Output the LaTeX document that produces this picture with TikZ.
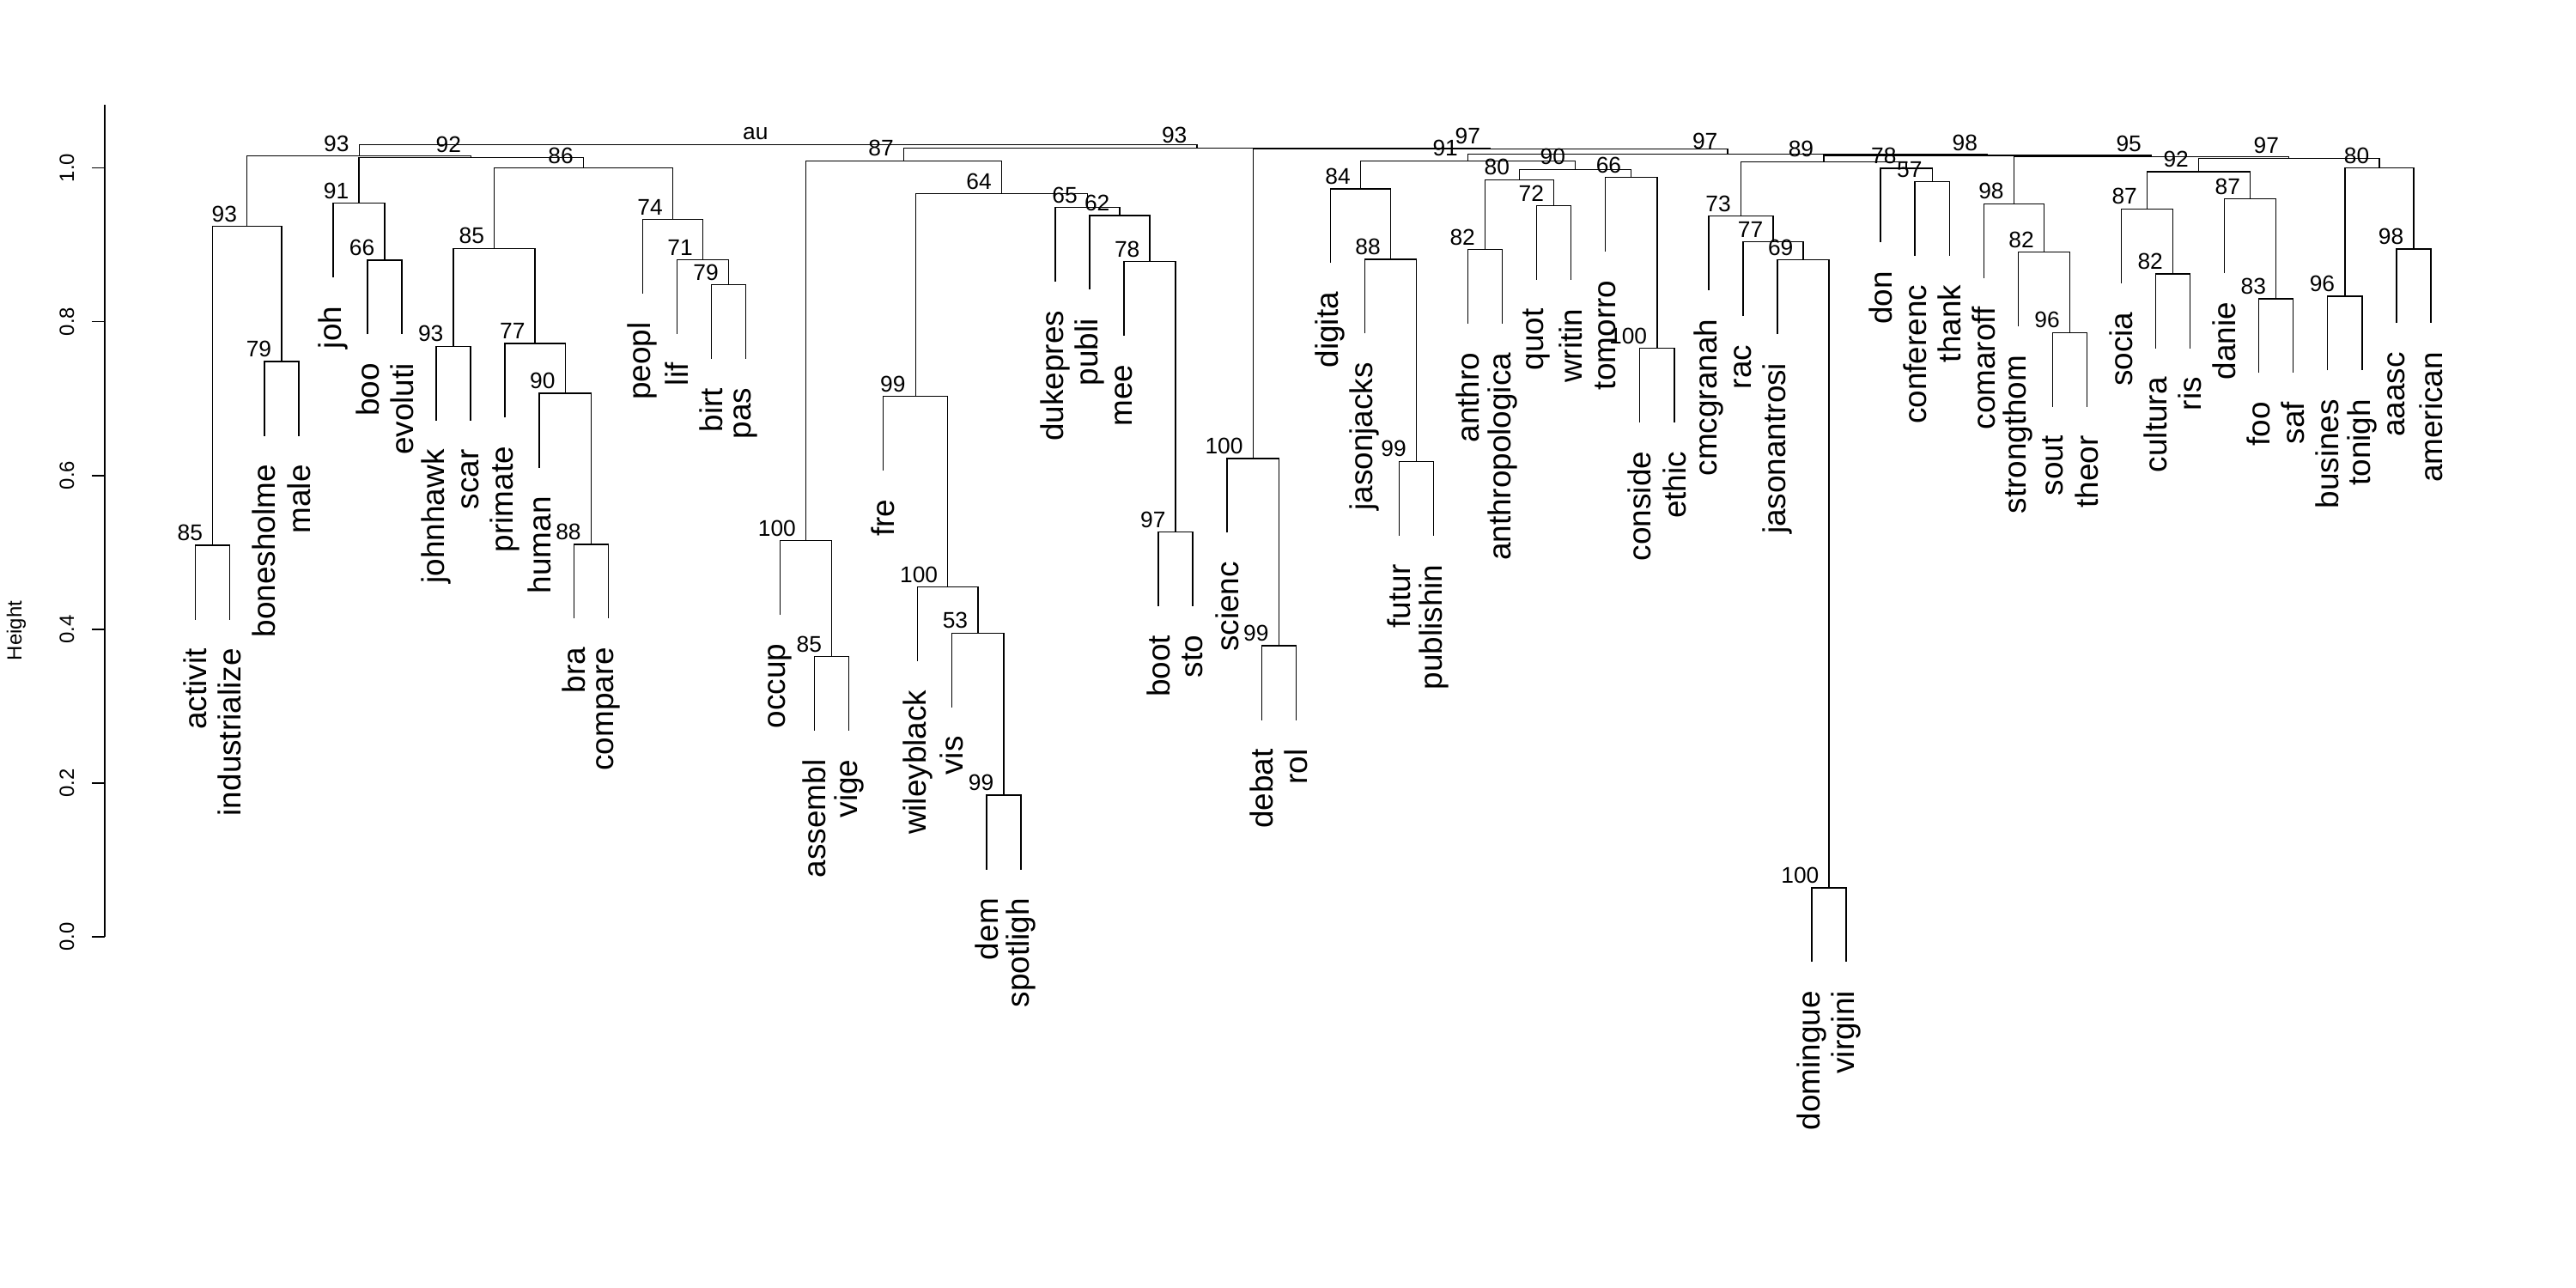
\documentclass[tikz,border=0pt]{standalone}
\usepackage{fontspec}
\setmainfont{Liberation Sans}
\usetikzlibrary{calc}
\tikzset{
  link/.style={line width=0.4pt, black},
  axis line/.style={line width=0.5pt, black},
  au label/.style={
    anchor=south east, inner sep=0pt,
    font=\fontsize{7.5pt}{9pt}\selectfont,
  },
  leaf label/.style={
    anchor=east, rotate=90, inner sep=0pt,
    font=\fontsize{10.5pt}{12pt}\selectfont,
  },
  tick label/.style={
    rotate=90, inner sep=0pt,
    font=\fontsize{6.8pt}{8pt}\selectfont,
  },
}
% leaves hang this far below their merge
\newcommand{\hang}{0.0966}
% merge: name, left child, right child, height, au value
\newcommand{\merge}[5]{%
  \coordinate (#1-mid) at ($(#2)!.5!(#3)$);
  \coordinate (#1) at (#1-mid |- 0,#4);
  \draw[link] (#2) |- (#1) -| (#3);
  \node[au label] (#1-au) at ([xshift=-1.1mm, yshift=0.45mm]#1) {#5};
}

\begin{document}
\begin{tikzpicture}[x=0.4005cm, y=8.955cm]
\useasboundingbox (-4.6854,-0.45673) rectangle (70.222,1.21831);

%% axis ==============================================================
\coordinate (ax0) at (-1.639, 0);
\coordinate (ax1) at (-1.639, 1.0824);
\draw[axis line] (ax0) -- (ax1);
\foreach \t in {0.0,0.2,0.4,0.6,0.8,1.0} {
  \draw[axis line] (-1.639,\t) -- ++(-0.3745,0);
  \node[tick label] at (-2.738,\t) {\t};
}
\node[tick label] (ylab) at (-4.211, 0.3981) {Height};

%% leaves: index / label / height of the merge above ==================
\foreach \i/\lab/\ph in {
  1/activit/0.509, 2/industrialize/0.509, 3/bonesholme/0.748, 4/male/0.748,
  5/joh/0.954, 6/boo/0.880, 7/evoluti/0.880, 8/johnhawk/0.768, 9/scar/0.768,
  10/primate/0.7716, 11/human/0.7066, 12/bra/0.5105, 13/compare/0.5105,
  14/peopl/0.9332, 15/lif/0.8807, 16/birt/0.848, 17/pas/0.848,
  18/occup/0.5151, 19/assembl/0.3646, 20/vige/0.3646, 21/fre/0.7028,
  22/wileyblack/0.455, 23/vis/0.395, 24/dem/0.1842, 25/spotligh/0.1842,
  26/dukepres/0.9484, 27/publi/0.938, 28/mee/0.8782, 29/boot/0.5263,
  30/sto/0.5263, 31/scienc/0.622, 32/debat/0.3783, 33/rol/0.3783,
  34/digita/0.9727, 35/jasonjacks/0.8811, 36/futur/0.6183, 37/publishin/0.6183,
  38/anthro/0.8937, 39/anthropologica/0.8937, 40/quot/0.951, 41/writin/0.951,
  42/tomorro/0.9875, 43/conside/0.7653, 44/ethic/0.7653, 45/cmcgranah/0.9373,
  46/rac/0.9038, 47/jasonantrosi/0.8804, 48/domingue/0.0637, 49/virgini/0.0637,
  50/don/0.9995, 51/conferenc/0.982, 52/thank/0.982, 53/comaroff/0.9533,
  54/strongthom/0.8904, 55/sout/0.7858, 56/theor/0.7858, 57/socia/0.9466,
  58/cultura/0.862, 59/ris/0.862, 60/danie/0.9597, 61/foo/0.8297, 62/saf/0.8297,
  63/busines/0.8331, 64/tonigh/0.8331, 65/aaasc/0.8945, 66/american/0.8945} {
  \coordinate (L\i) at (\i, \ph-\hang);
  \node[leaf label] (T\i) at ([yshift=-3.3mm]L\i) {\lab};
}

%% merges ============================================================
\merge{act}{L1}{L2}{0.509}{85}
\merge{bon}{L3}{L4}{0.748}{79}
\merge{A}{act}{bon}{0.924}{93}
\merge{boo}{L6}{L7}{0.880}{66}
\merge{B}{L5}{boo}{0.954}{91}
\merge{jh}{L8}{L9}{0.768}{93}
\merge{bra}{L12}{L13}{0.5105}{88}
\merge{hum}{L11}{bra}{0.7066}{90}
\merge{pri}{L10}{hum}{0.7716}{77}
\merge{jhp}{jh}{pri}{0.8952}{85}
\merge{birt}{L16}{L17}{0.848}{79}
\merge{lif}{L15}{birt}{0.8807}{71}
\merge{peo}{L14}{lif}{0.9332}{74}
\merge{C}{jhp}{peo}{1.0000}{86}
\merge{E}{B}{C}{1.0136}{92}
\merge{D}{A}{E}{1.0154}{93}
\merge{vige}{L19}{L20}{0.3646}{85}
\merge{occ}{L18}{vige}{0.5151}{100}
\merge{dem}{L24}{L25}{0.1842}{99}
\merge{vis}{L23}{dem}{0.395}{53}
\merge{wil}{L22}{vis}{0.455}{100}
\merge{fre}{L21}{wil}{0.7028}{99}
\merge{sto}{L29}{L30}{0.5263}{97}
\merge{mee}{L28}{sto}{0.8782}{78}
\merge{pub}{L27}{mee}{0.938}{62}
\merge{duke}{L26}{pub}{0.9484}{65}
\merge{frd}{fre}{duke}{0.9663}{64}
\merge{occf}{occ}{frd}{1.0091}{87}
\merge{rol}{L32}{L33}{0.3783}{99}
\merge{sci}{L31}{rol}{0.622}{100}
\merge{fut}{L36}{L37}{0.6183}{99}
\merge{jas}{L35}{fut}{0.8811}{88}
\merge{dig}{L34}{jas}{0.9727}{84}
\merge{ant}{L38}{L39}{0.8937}{82}
\merge{quo}{L40}{L41}{0.951}{72}
\merge{antq}{ant}{quo}{0.9846}{80}
\merge{eth}{L43}{L44}{0.7653}{100}
\merge{tom}{L42}{eth}{0.9875}{66}
\merge{aq}{antq}{tom}{0.998}{90}
\merge{dq}{dig}{aq}{1.0091}{91}
\merge{dom}{L48}{L49}{0.0637}{100}
\merge{jsa}{L47}{dom}{0.8804}{69}
\merge{rac}{L46}{jsa}{0.9038}{77}
\merge{cmc}{L45}{rac}{0.9373}{73}
\merge{thk}{L51}{L52}{0.982}{57}
\merge{don}{L50}{thk}{0.9995}{78}
\merge{cd}{cmc}{don}{1.0080}{89}
\merge{sou}{L55}{L56}{0.7858}{96}
\merge{str}{L54}{sou}{0.8904}{82}
\merge{com}{L53}{str}{0.9533}{98}
\merge{ris}{L58}{L59}{0.862}{82}
\merge{soc}{L57}{ris}{0.9466}{87}
\merge{saf}{L61}{L62}{0.8297}{83}
\merge{dan}{L60}{saf}{0.9597}{87}
\merge{sd}{soc}{dan}{0.995}{92}
\merge{ton}{L63}{L64}{0.8331}{96}
\merge{ame}{L65}{L66}{0.8945}{98}
\merge{ta}{ton}{ame}{1.0000}{80}
\merge{sdta}{sd}{ta}{1.0125}{97}
\merge{cst}{com}{sdta}{1.0146}{95}
\merge{cdc}{cd}{cst}{1.0162}{98}
\merge{dqc}{dq}{cdc}{1.0179}{97}
\merge{sdq}{sci}{dqc}{1.0248}{97}
\merge{R}{occf}{sdq}{1.0259}{93}
\merge{root}{D}{R}{1.0303}{au}

\end{tikzpicture}
\end{document}
